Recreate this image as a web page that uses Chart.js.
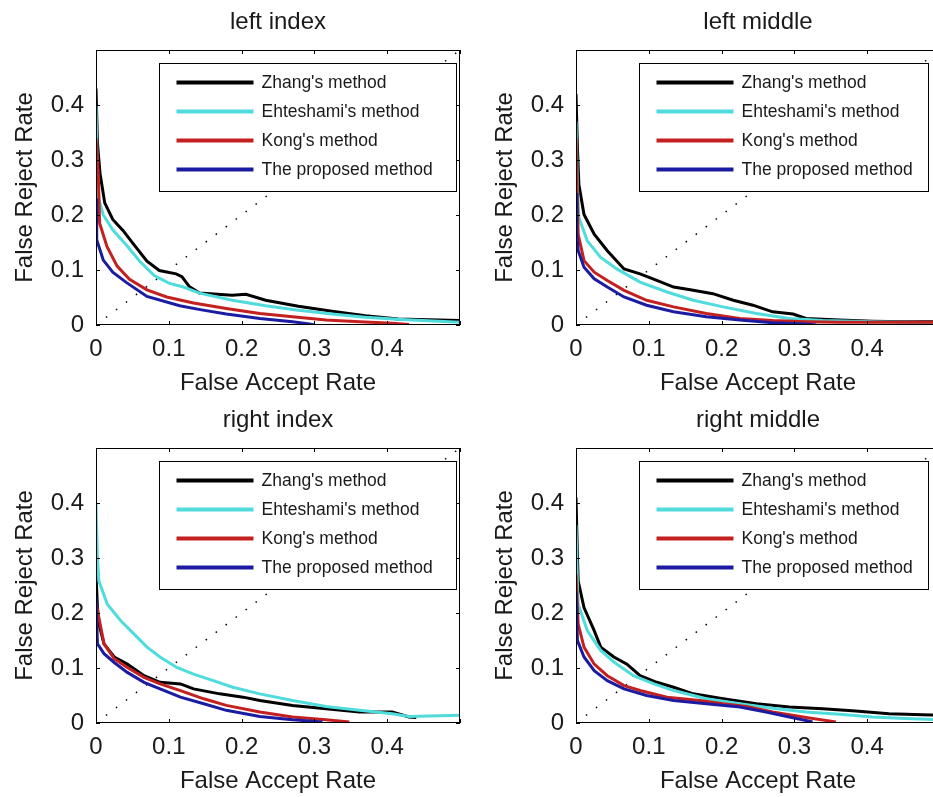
<!DOCTYPE html>
<html>
<head>
<meta charset="utf-8">
<title>FAR / FRR curves</title>
<script src="https://cdn.jsdelivr.net/npm/chart.js"></script>
<style>
  html, body { margin: 0; padding: 0; background: #fff; overflow: hidden; }
  body { width: 933px; height: 797px; position: relative; }
  .panel { position: absolute; width: 470px; height: 400px; }
</style>
</head>
<body>
<div class="panel" style="left:0;top:0"><canvas id="c0" width="470" height="400"></canvas></div>
<div class="panel" style="left:480px;top:0"><canvas id="c1" width="470" height="400"></canvas></div>
<div class="panel" style="left:0;top:398px"><canvas id="c2" width="470" height="400"></canvas></div>
<div class="panel" style="left:480px;top:398px"><canvas id="c3" width="470" height="400"></canvas></div>
<script>
// Panel titles, legend names, tick labels
const panelTitles = ['left index', 'left middle', 'right index', 'right middle'];
const methodNames = ["Zhang's method", "Ehteshami's method", "Kong's method", 'The proposed method'];
const xTickLabels = ['0', '0.1', '0.2', '0.3', '0.4'];
const yTickLabels = ['0', '0.1', '0.2', '0.3', '0.4'];

// equal error rate guide (y = x)
const eerLine = [[0, 0], [0.5, 0.5]];

// left index: [FAR, FRR]
const leftIndexZhang = [[0,0.43],[0.002,0.33],[0.0055,0.276],[0.012,0.222],[0.023,0.192],[0.037,0.172],[0.051,0.148],[0.07,0.116],[0.087,0.099],[0.11,0.093],[0.118,0.088],[0.128,0.07],[0.142,0.058],[0.187,0.054],[0.206,0.056],[0.233,0.045],[0.278,0.034],[0.324,0.025],[0.37,0.017],[0.415,0.011],[0.5,0.008]];
const leftIndexEhteshami = [[0,0.40],[0.002,0.26],[0.004,0.228],[0.01,0.2],[0.023,0.173],[0.042,0.145],[0.06,0.116],[0.08,0.09],[0.1,0.076],[0.12,0.069],[0.142,0.058],[0.187,0.045],[0.233,0.035],[0.278,0.027],[0.324,0.02],[0.37,0.014],[0.42,0.01],[0.5,0.005]];
const leftIndexKong = [[0,0.34],[0.003,0.28],[0.005,0.185],[0.015,0.143],[0.029,0.107],[0.046,0.083],[0.07,0.064],[0.097,0.051],[0.134,0.04],[0.179,0.03],[0.225,0.021],[0.27,0.015],[0.316,0.009],[0.362,0.006],[0.407,0.003],[0.43,0.001]];
const leftIndexProposed = [[0,0.23],[0.001,0.155],[0.01,0.118],[0.023,0.096],[0.042,0.077],[0.07,0.052],[0.115,0.035],[0.143,0.028],[0.179,0.02],[0.225,0.012],[0.27,0.006],[0.293,0.002],[0.30,0]];

// left middle
const leftMiddleZhang = [[0,0.42],[0.002,0.32],[0.004,0.255],[0.011,0.201],[0.025,0.165],[0.043,0.135],[0.066,0.102],[0.088,0.093],[0.111,0.081],[0.134,0.069],[0.157,0.064],[0.188,0.057],[0.216,0.045],[0.243,0.036],[0.27,0.024],[0.298,0.020],[0.316,0.012],[0.362,0.009],[0.407,0.007],[0.453,0.006],[0.5,0.006]];
const leftMiddleEhteshami = [[0,0.37],[0.002,0.25],[0.004,0.195],[0.0155,0.153],[0.034,0.123],[0.056,0.102],[0.088,0.078],[0.125,0.060],[0.161,0.045],[0.202,0.033],[0.248,0.021],[0.293,0.012],[0.339,0.008],[0.407,0.006],[0.5,0.004]];
const leftMiddleKong = [[0,0.34],[0.002,0.22],[0.003,0.165],[0.011,0.117],[0.025,0.096],[0.043,0.081],[0.066,0.063],[0.097,0.045],[0.134,0.033],[0.179,0.021],[0.225,0.012],[0.27,0.008],[0.316,0.006],[0.362,0.005],[0.5,0.005]];
const leftMiddleProposed = [[0,0.24],[0.001,0.17],[0.003,0.135],[0.011,0.105],[0.025,0.084],[0.043,0.069],[0.066,0.051],[0.097,0.036],[0.134,0.024],[0.179,0.015],[0.225,0.009],[0.27,0.004],[0.316,0.002],[0.33,0]];

// right index
const rightIndexZhang = [[0,0.27],[0.002,0.21],[0.004,0.18],[0.011,0.144],[0.025,0.120],[0.043,0.107],[0.066,0.086],[0.088,0.074],[0.116,0.071],[0.134,0.062],[0.170,0.053],[0.202,0.047],[0.225,0.041],[0.27,0.032],[0.316,0.026],[0.362,0.020],[0.407,0.020],[0.43,0.011],[0.44,0.01]];
const rightIndexEhteshami = [[0,0.40],[0.002,0.30],[0.004,0.258],[0.0155,0.216],[0.034,0.186],[0.052,0.162],[0.070,0.138],[0.088,0.120],[0.111,0.101],[0.134,0.089],[0.161,0.077],[0.188,0.065],[0.225,0.053],[0.27,0.041],[0.316,0.030],[0.362,0.023],[0.407,0.017],[0.43,0.012],[0.5,0.014]];
const rightIndexKong = [[0,0.22],[0.003,0.198],[0.011,0.144],[0.025,0.117],[0.043,0.101],[0.066,0.083],[0.088,0.071],[0.116,0.059],[0.148,0.044],[0.179,0.032],[0.225,0.020],[0.27,0.011],[0.316,0.006],[0.348,0.002]];
const rightIndexProposed = [[0,0.23],[0.002,0.144],[0.011,0.126],[0.025,0.110],[0.043,0.092],[0.066,0.074],[0.088,0.062],[0.116,0.047],[0.148,0.035],[0.179,0.023],[0.225,0.012],[0.27,0.006],[0.311,0.002]];

// right middle
const rightMiddleZhang = [[0,0.41],[0.002,0.30],[0.003,0.258],[0.011,0.210],[0.025,0.168],[0.034,0.138],[0.052,0.120],[0.070,0.107],[0.088,0.086],[0.111,0.074],[0.134,0.065],[0.161,0.053],[0.202,0.044],[0.248,0.035],[0.293,0.029],[0.339,0.026],[0.384,0.022],[0.43,0.017],[0.5,0.014]];
const rightMiddleEhteshami = [[0,0.36],[0.002,0.25],[0.003,0.216],[0.0155,0.168],[0.034,0.132],[0.052,0.111],[0.079,0.086],[0.107,0.071],[0.134,0.059],[0.179,0.044],[0.225,0.035],[0.27,0.027],[0.316,0.020],[0.362,0.016],[0.407,0.011],[0.453,0.008],[0.5,0.006]];
const rightMiddleKong = [[0,0.27],[0.003,0.18],[0.011,0.138],[0.025,0.107],[0.043,0.086],[0.066,0.068],[0.088,0.059],[0.125,0.047],[0.170,0.041],[0.202,0.035],[0.234,0.030],[0.27,0.020],[0.316,0.010],[0.357,0.002]];
const rightMiddleProposed = [[0,0.24],[0.002,0.150],[0.011,0.120],[0.025,0.095],[0.043,0.077],[0.066,0.062],[0.097,0.050],[0.134,0.041],[0.179,0.035],[0.225,0.029],[0.261,0.020],[0.293,0.011],[0.325,0.002]];

const panelSeries = [
  [leftIndexZhang, leftIndexEhteshami, leftIndexKong, leftIndexProposed],
  [leftMiddleZhang, leftMiddleEhteshami, leftMiddleKong, leftMiddleProposed],
  [rightIndexZhang, rightIndexEhteshami, rightIndexKong, rightIndexProposed],
  [rightMiddleZhang, rightMiddleEhteshami, rightMiddleKong, rightMiddleProposed]
];

const lineColors = ['#000000', '#50dcdc', '#c42020', '#1c1ca2'];
const FONT = "'Liberation Sans', Arial, Helvetica, sans-serif";
Chart.defaults.font.family = FONT;
Chart.defaults.color = '#1a1a1a';

const toPoints = arr => arr.map(p => ({ x: p[0], y: p[1] }));

// matlab style box, inward ticks and boxed legend inside the axes
const matlabFrame = {
  id: 'matlabFrame',
  afterDatasetsDraw(chart, args, opts) {
    const { ctx, chartArea: a, scales: { x, y } } = chart;
    ctx.save();
    ctx.strokeStyle = '#000';
    ctx.lineWidth = 1;
    ctx.beginPath();
    x.ticks.forEach(t => {
      const px = Math.round(x.getPixelForValue(t.value)) + 0.5;
      ctx.moveTo(px, a.bottom); ctx.lineTo(px, a.bottom - 4);
      ctx.moveTo(px, a.top); ctx.lineTo(px, a.top + 4);
    });
    y.ticks.forEach(t => {
      const py = Math.round(y.getPixelForValue(t.value)) + 0.5;
      ctx.moveTo(a.left, py); ctx.lineTo(a.left + 4, py);
      ctx.moveTo(a.right, py); ctx.lineTo(a.right - 4, py);
    });
    ctx.stroke();
    ctx.strokeRect(Math.round(a.left) + 0.5, Math.round(a.top) + 0.5, Math.round(a.width) - 1, Math.round(a.height) - 1);

    // legend
    const items = chart.data.datasets.filter(d => d.label);
    const lx = Math.round(a.left + 63) + 0.5;
    const ly = Math.round(a.top + 13) + 0.5;
    const lw = opts.legendWidth;
    const rowH = 29;
    const lh = 19 + rowH * (items.length - 1) + 22;
    ctx.fillStyle = '#fff';
    ctx.fillRect(lx, ly, lw, lh);
    ctx.strokeRect(lx, ly, lw, lh);
    ctx.font = '17.5px ' + FONT;
    ctx.textBaseline = 'middle';
    ctx.textAlign = 'left';
    items.forEach((d, i) => {
      const cy = ly + 19 + i * rowH;
      ctx.strokeStyle = d.borderColor;
      ctx.lineWidth = 4;
      ctx.beginPath();
      ctx.moveTo(lx + 17, cy); ctx.lineTo(lx + 94, cy);
      ctx.stroke();
      ctx.fillStyle = '#1a1a1a';
      ctx.fillText(d.label, lx + 102, cy + 1);
    });
    ctx.restore();
  }
};

function makePanel(idx) {
  const datasets = [{
    data: toPoints(eerLine),
    borderColor: '#000',
    borderWidth: 1.5,
    borderDash: [1.5, 11],
    pointRadius: 0,
    order: 10
  }];
  panelSeries[idx].forEach((s, i) => {
    datasets.push({
      label: methodNames[i],
      data: toPoints(s),
      borderColor: lineColors[i],
      borderWidth: 3,
      pointRadius: 0,
      tension: 0,
      order: 4 - i
    });
  });

  new Chart(document.getElementById('c' + idx), {
    type: 'line',
    data: { datasets },
    options: {
      responsive: false,
      animation: false,
      events: [],
      layout: { padding: { left: 0, right: 8, top: 0, bottom: 0 } },
      plugins: {
        legend: { display: false },
        tooltip: { enabled: false },
        title: {
          display: true,
          text: panelTitles[idx],
          fullSize: false,
          color: '#1a1a1a',
          font: { size: 24, weight: 'normal' },
          padding: { top: 7.6, bottom: 13.6 }
        },
        matlabFrame: { legendWidth: idx % 2 === 0 ? 297 : 289 }
      },
      scales: {
        x: {
          type: 'linear',
          min: 0, max: 0.5,
          grid: { display: false, drawTicks: false },
          border: { display: false },
          ticks: {
            stepSize: 0.1,
            padding: 10,
            maxRotation: 0,
            autoSkip: false,
            font: { size: 24 },
            callback: (v, i) => xTickLabels[i] ?? ''
          },
          title: {
            display: true,
            text: 'False Accept Rate',
            font: { size: 24 },
            padding: { top: 0, bottom: 2 }
          },
          afterFit: s => { s.height = 75; }
        },
        y: {
          type: 'linear',
          min: 0, max: 0.5,
          grid: { display: false, drawTicks: false },
          border: { display: false },
          ticks: {
            stepSize: 0.1,
            padding: 12,
            autoSkip: false,
            font: { size: 24 },
            callback: (v, i) => yTickLabels[i] ?? ''
          },
          title: {
            display: true,
            text: 'False Reject Rate',
            font: { size: 24 },
            padding: { top: 10.6, bottom: 0 }
          },
          afterFit: s => { s.width = 96; }
        }
      }
    },
    plugins: [matlabFrame]
  });
}

[0, 1, 2, 3].forEach(makePanel);
</script>
</body>
</html>
